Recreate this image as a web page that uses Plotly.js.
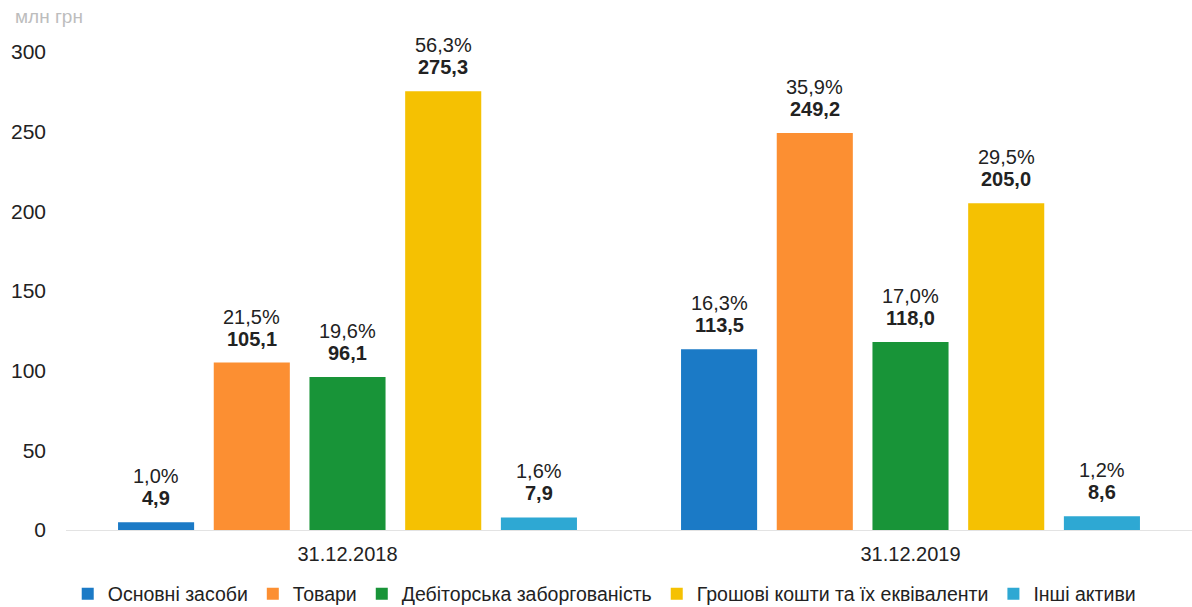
<!DOCTYPE html>
<html><head><meta charset="utf-8">
<script src="https://cdn.plot.ly/plotly-3.0.1.min.js"></script>
<style>html,body{margin:0;padding:0;background:#fff;}#c{width:1192px;height:607px;}</style>
</head><body><div id="c"></div>
<script>
const categories = ["31.12.2018", "31.12.2019"];
const seriesNames = ["Основні засоби", "Товари", "Дебіторська заборгованість", "Грошові кошти та їх еквіваленти", "Інші активи"];
const fixedAssets = [4.9, 113.5];
const goods = [105.1, 249.2];
const receivables = [96.1, 118.0];
const cash = [275.3, 205.0];
const otherAssets = [7.9, 8.6];
const fixedAssetsPct = ["1,0%", "16,3%"];
const goodsPct = ["21,5%", "35,9%"];
const receivablesPct = ["19,6%", "17,0%"];
const cashPct = ["56,3%", "29,5%"];
const otherAssetsPct = ["1,6%", "1,2%"];
const yTicks = [0, 50, 100, 150, 200, 250, 300];
const colors = ["#1b7ac6", "#fc8f32", "#189438", "#f5c102", "#2ea8d3"];

const values = [fixedAssets, goods, receivables, cash, otherAssets];
const pcts = [fixedAssetsPct, goodsPct, receivablesPct, cashPct, otherAssetsPct];
const fmt = v => v.toFixed(1).replace('.', ',');
const FONT = 'Liberation Sans, Arial, sans-serif';
const bargap = 0.15;
const nS = values.length;

const traces = values.map((vals, i) => ({
  type: 'bar',
  name: seriesNames[i],
  x: categories,
  y: vals,
  marker: {color: colors[i]},
  hoverinfo: 'skip'
}));

const annotations = [];
values.forEach((vals, i) => {
  vals.forEach((v, j) => {
    const xpos = j + (i - (nS - 1) / 2) * (1 - bargap) / nS;
    annotations.push({x: xpos, y: v, xref: 'x', yref: 'y', text: '<b>' + fmt(v) + '</b>',
      showarrow: false, yanchor: 'bottom', yshift: 11, font: {size: 20, color: '#222', family: FONT}});
    annotations.push({x: xpos, y: v, xref: 'x', yref: 'y', text: pcts[i][j],
      showarrow: false, yanchor: 'bottom', yshift: 33, font: {size: 20, color: '#222', family: FONT}});
  });
});
annotations.push({text: 'млн грн', xref: 'paper', yref: 'paper', x: -0.047, y: 1, xanchor: 'left',
  yshift: 36, yanchor: 'middle', showarrow: false, font: {size: 19, color: '#bdbdbd', family: FONT}});

const layout = {
  width: 1192, height: 607,
  margin: {l: 66, r: 0, t: 52, b: 77, autoexpand: false},
  paper_bgcolor: '#fff', plot_bgcolor: '#fff',
  font: {family: FONT, size: 20, color: '#222'},
  barmode: 'group', bargap: bargap, bargroupgap: 0.205,
  showlegend: true,
  legend: {orientation: 'h', x: 0.478, xanchor: 'center', y: -0.134, yanchor: 'middle',
           font: {size: 19.5, color: '#222'}, itemwidth: 30, tracegroupgap: 0},
  xaxis: {showgrid: false, showline: true, linecolor: '#e3e3e3', linewidth: 1,
          ticks: '', ticklabelstandoff: 6, tickfont: {size: 20, color: '#222'}},
  yaxis: {range: [0, 300], tickvals: yTicks,
          showgrid: false, zeroline: false, showline: false, ticks: '',
          ticklabelstandoff: 19, tickfont: {size: 21, color: '#222'}},
  annotations: annotations
};
Plotly.newPlot('c', traces, layout, {displayModeBar: false, staticPlot: true});
</script></body></html>
